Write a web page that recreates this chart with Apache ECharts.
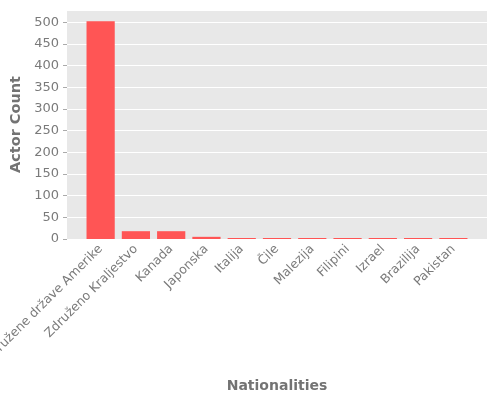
<!DOCTYPE html>
<html>
<head>
<meta charset="utf-8">
<script src="https://cdn.jsdelivr.net/npm/echarts@6/dist/echarts.min.js"></script>
<style>
    html, body { margin: 0; padding: 0; background: #fff; }
    #chart { width: 500px; height: 400px; }
</style>
</head>
<body>
<div id="chart"></div>
<script>
// Data
var nationalities = ['Združene države Amerike', 'Združeno Kraljestvo', 'Kanada', 'Japonska',
    'Italija', 'Čile', 'Malezija', 'Filipini', 'Izrael', 'Brazilija', 'Pakistan'];
var actorCounts = [502, 18, 18, 5, 2, 2, 2, 2, 2, 2, 2];
var yTicks = [0, 50, 100, 150, 200, 250, 300, 350, 400, 450, 500];

var yMax = 528;
var labelGray = '#7a7a7a';
var titleGray = '#737373';

var chart = echarts.init(document.getElementById('chart'));

chart.setOption({

    // Global text styles
    textStyle: {
        fontFamily: 'DejaVu Sans, sans-serif'
    },

    animation: false,

    // Grid 0 draws the gray panel, grid 1 holds the bars
    grid: [
        {
            left: 67, right: 13, top: 10, bottom: 161,
            outerBoundsMode: 'none',
            show: true, backgroundColor: '#e8e8e8', borderWidth: 0
        },
        {
            left: 83, right: 29, top: 10, bottom: 161,
            outerBoundsMode: 'none'
        }
    ],

    xAxis: [
        {
            gridIndex: 0,
            type: 'value',
            show: false
        },
        {
            gridIndex: 1,
            type: 'category',
            data: nationalities,
            name: 'Nationalities',
            nameLocation: 'middle',
            nameGap: 140,
            nameTextStyle: {
                color: titleGray,
                fontSize: 14,
                fontWeight: 'bold'
            },
            axisLine: { show: false },
            axisTick: {
                alignWithLabel: true,
                length: 5,
                lineStyle: { color: '#aaa' }
            },
            axisLabel: {
                rotate: 45,
                interval: 0,
                color: labelGray,
                fontSize: 12.5,
                margin: 8
            }
        }
    ],

    yAxis: [
        {
            gridIndex: 0,
            type: 'value',
            min: 0,
            max: yMax,
            interval: 50,
            name: 'Actor Count',
            nameLocation: 'middle',
            nameGap: 38,
            nameTextStyle: {
                color: titleGray,
                fontSize: 14.5,
                fontWeight: 'bold'
            },
            axisLine: { show: false },
            axisTick: {
                show: true,
                length: 4,
                lineStyle: { color: '#aaa' }
            },
            axisLabel: {
                color: labelGray,
                fontSize: 13,
                margin: 8,
                showMaxLabel: false,
                formatter: function (v) {
                    return yTicks.indexOf(v) >= 0 ? String(v) : '';
                }
            },
            splitLine: {
                show: true,
                lineStyle: { color: '#fff', width: 1 }
            }
        },
        {
            gridIndex: 1,
            type: 'value',
            min: 0,
            max: yMax,
            show: false
        }
    ],

    series: [{
        name: 'Actor Count',
        type: 'bar',
        xAxisIndex: 1,
        yAxisIndex: 1,
        barCategoryGap: '20%',
        barMinHeight: 1,
        itemStyle: {
            color: '#ff5555'
        },
        data: actorCounts
    }]
});
</script>
</body>
</html>
